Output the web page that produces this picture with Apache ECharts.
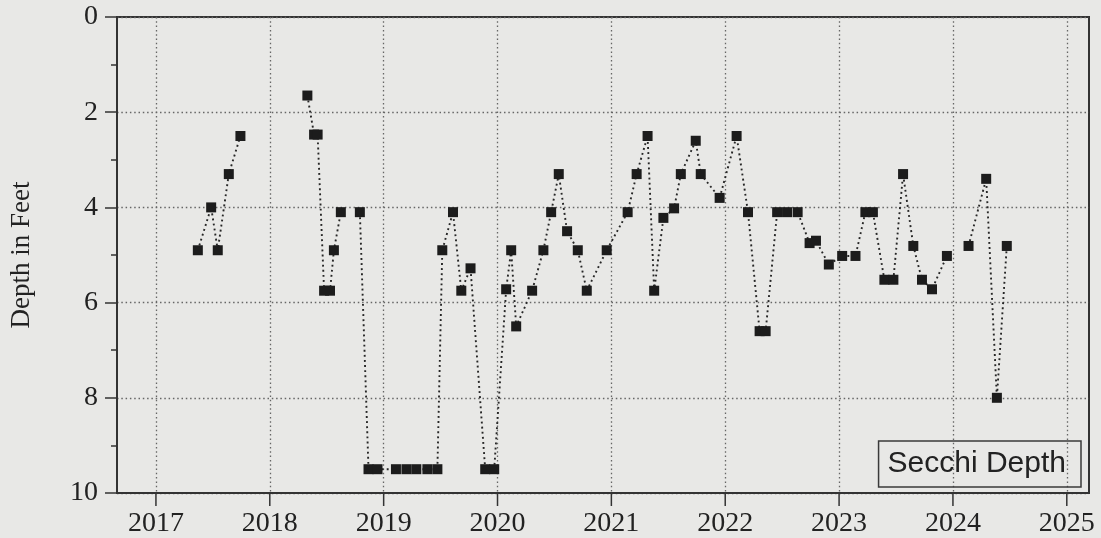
<!DOCTYPE html>
<html>
<head>
<meta charset="utf-8">
<script src="https://cdn.jsdelivr.net/npm/echarts@6/dist/echarts.min.js"></script>
<style>
  html, body { margin: 0; padding: 0; background: #e8e8e6; }
  #chart { width: 1101px; height: 538px; }
</style>
</head>
<body>
<div id="chart"></div>
<script>
// Sample dates as decimal years; null depth = gap in the record
var sampleYear = [
  2017.368, 2017.485, 2017.543, 2017.640, 2017.742, 2018.000,
  2018.330, 2018.389, 2018.420, 2018.477, 2018.529, 2018.563, 2018.624, 2018.700,
  2018.791, 2018.867, 2018.946, 2019.108, 2019.200, 2019.287, 2019.384, 2019.472,
  2019.515, 2019.609, 2019.682, 2019.763, 2019.892, 2019.971,
  2020.076, 2020.120, 2020.164, 2020.304, 2020.403, 2020.471, 2020.538, 2020.611,
  2020.705, 2020.784, 2020.959,
  2021.143, 2021.222, 2021.318, 2021.376, 2021.457, 2021.551, 2021.610, 2021.741,
  2021.785, 2021.951,
  2022.100, 2022.200, 2022.302, 2022.355, 2022.456, 2022.543, 2022.636, 2022.741,
  2022.797, 2022.910,
  2023.027, 2023.144, 2023.231, 2023.297, 2023.398, 2023.477, 2023.562, 2023.652,
  2023.728, 2023.816, 2023.947, 2024.040,
  2024.137, 2024.292, 2024.386, 2024.473
];
var secchiDepth = [
  4.9, 4.0, 4.9, 3.3, 2.5, null,
  1.65, 2.47, 2.47, 5.75, 5.75, 4.9, 4.1, null,
  4.1, 9.5, 9.5, 9.5, 9.5, 9.5, 9.5, 9.5,
  4.9, 4.1, 5.75, 5.28, 9.5, 9.5,
  5.72, 4.9, 6.5, 5.75, 4.9, 4.1, 3.3, 4.5,
  4.9, 5.75, 4.9,
  4.1, 3.3, 2.5, 5.75, 4.22, 4.02, 3.3, 2.6,
  3.3, 3.8,
  2.5, 4.1, 6.6, 6.6, 4.1, 4.1, 4.1, 4.75,
  4.7, 5.2,
  5.02, 5.02, 4.1, 4.1, 5.52, 5.52, 3.3, 4.81,
  5.52, 5.72, 5.02, null,
  4.81, 3.4, 8.0, 4.81
];
var yearTicks = [2017, 2018, 2019, 2020, 2021, 2022, 2023, 2024, 2025];
var seriesName = 'Secchi Depth';

var seriesData = sampleYear.map(function (x, i) {
  return [x, secchiDepth[i] === null ? '-' : secchiDepth[i]];
});

var axisColor = '#333333';
var gridLine = { show: true, lineStyle: { color: '#666666', width: 1.3, type: [1.5, 2.8] } };

var chart = echarts.init(document.getElementById('chart'), null, { renderer: 'canvas' });
chart.setOption({
  backgroundColor: '#e8e8e6',
  animation: false,
  grid: {
    left: 115, right: 12, top: 17, bottom: 45,
    show: true, borderColor: axisColor, borderWidth: 2, backgroundColor: 'transparent'
  },
  legend: {
    data: [seriesName],
    right: 20, bottom: 51,
    icon: 'none',
    itemWidth: 0, itemHeight: 0,
    selectedMode: false,
    borderColor: '#3a3a3a', borderWidth: 1.5, borderRadius: 0,
    padding: [8, 15, 8, 4],
    textStyle: { fontFamily: 'Liberation Sans', fontSize: 30, color: '#222' }
  },
  xAxis: {
    type: 'value',
    position: 'bottom',
    min: 2016.658, max: 2025.195,
    axisLine: { show: true, onZero: false, lineStyle: { color: axisColor, width: 2 } },
    axisTick: { show: false, customValues: yearTicks },
    axisLabel: { customValues: yearTicks, margin: 17,
                 formatter: function (v) { return String(Math.round(v)); },
                 fontFamily: 'Liberation Serif', fontSize: 28, color: '#222' },
    splitLine: gridLine
  },
  yAxis: {
    type: 'value',
    inverse: true,
    min: 0, max: 10, interval: 2,
    name: 'Depth in Feet',
    nameLocation: 'middle',
    nameGap: 82,
    nameTextStyle: { fontFamily: 'Liberation Serif', fontSize: 27, color: '#222' },
    axisLine: { show: true, onZero: false, lineStyle: { color: axisColor, width: 2 } },
    axisTick: { show: true, inside: false, length: 12, lineStyle: { color: axisColor, width: 1.5 } },
    minorTick: { show: true, splitNumber: 2, length: 6, lineStyle: { color: axisColor, width: 1.5 } },
    axisLabel: { margin: 19, fontFamily: 'Liberation Serif', fontSize: 28, color: '#222' },
    splitLine: gridLine
  },
  series: [{
    name: seriesName,
    type: 'line',
    data: seriesData,
    connectNulls: false,
    symbol: 'rect',
    symbolSize: 10,
    showAllSymbol: true,
    itemStyle: { color: '#1c1c1c' },
    lineStyle: { color: '#262626', width: 1.9, type: [1.9, 3.2] },
    emphasis: { disabled: true }
  }]
});

// Outward year ticks below the x axis, placed through the axis scale
var axisBottom = chart.convertToPixel({ yAxisIndex: 0 }, 10);
chart.setOption({
  graphic: yearTicks.map(function (yr) {
    var px = chart.convertToPixel({ xAxisIndex: 0 }, yr);
    return {
      type: 'line', silent: true, z: 10,
      shape: { x1: px, y1: axisBottom, x2: px, y2: axisBottom + 13 },
      style: { stroke: axisColor, lineWidth: 1.5 }
    };
  })
});
</script>
</body>
</html>
